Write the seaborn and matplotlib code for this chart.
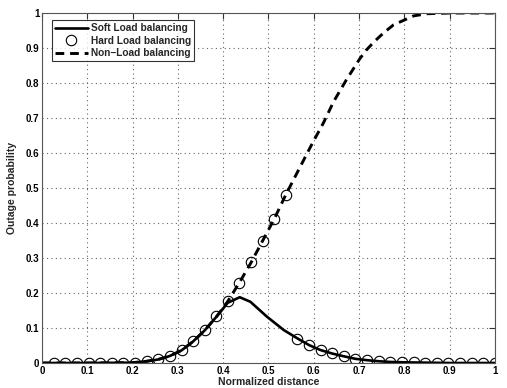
import matplotlib
matplotlib.use("Agg")
import matplotlib.pyplot as plt
import seaborn as sns
import pandas as pd

# soft load balancing curve
soft_x = [0.0, 0.1, 0.2, 0.231, 0.256, 0.282, 0.308, 0.333, 0.359, 0.385, 0.41,
          0.4365, 0.46, 0.497, 0.534, 0.567, 0.59, 0.615, 0.641, 0.667, 0.692,
          0.718, 0.744, 0.77, 0.8, 0.85, 0.9, 1.0]
soft_y = [0.0, 0.0, 0.001, 0.005, 0.01, 0.02, 0.036, 0.061, 0.093, 0.132, 0.172,
          0.188, 0.175, 0.132, 0.094, 0.068, 0.051, 0.037, 0.027, 0.019, 0.012,
          0.008, 0.005, 0.003, 0.002, 0.001, 0.0, 0.0]

# non-load balancing curve
nolb_x = [0.0, 0.1, 0.2, 0.231, 0.256, 0.282, 0.308, 0.333, 0.359, 0.385, 0.41,
          0.436, 0.462, 0.487, 0.513, 0.538, 0.573, 0.597, 0.621, 0.644, 0.672,
          0.701, 0.716, 0.735, 0.755, 0.776, 0.8, 0.821, 0.85, 0.9, 1.0]
nolb_y = [0.0, 0.0, 0.001, 0.005, 0.01, 0.02, 0.036, 0.061, 0.093, 0.132, 0.176,
          0.23, 0.288, 0.349, 0.412, 0.48, 0.568, 0.628, 0.685, 0.747, 0.809,
          0.868, 0.894, 0.92, 0.944, 0.966, 0.98, 0.992, 0.998, 1.0, 1.0]

# hard load balancing samples
hard_x = [0.026, 0.051, 0.077, 0.103, 0.128, 0.154, 0.179, 0.205, 0.231, 0.256,
          0.282, 0.308, 0.333, 0.359, 0.385, 0.41, 0.436, 0.462, 0.487, 0.513,
          0.538, 0.564, 0.59, 0.615, 0.641, 0.667, 0.692, 0.718, 0.744, 0.769,
          0.795, 0.821, 0.846, 0.872, 0.897, 0.923, 0.949, 0.974, 1.0]
hard_y = [0.0, 0.0, 0.0, 0.0, 0.0, 0.0, 0.0, 0.001, 0.006, 0.011,
          0.021, 0.037, 0.063, 0.094, 0.134, 0.178, 0.23, 0.288, 0.349, 0.412,
          0.48, 0.068, 0.051, 0.037, 0.028, 0.02, 0.012, 0.009, 0.006, 0.004,
          0.003, 0.002, 0.001, 0.0, 0.0, 0.0, 0.0, 0.0, 0.0]

sns.set_style("white")
plt.rcParams['font.family'] = ['Liberation Sans', 'DejaVu Sans']
plt.rcParams['font.weight'] = 'bold'

fig = plt.figure(figsize=(5.07, 3.88), dpi=100)
ax = fig.add_axes([0.083, 0.0644, 0.893, 0.902])

soft = pd.DataFrame({'x': soft_x, 'y': soft_y})
nolb = pd.DataFrame({'x': nolb_x, 'y': nolb_y})
hard = pd.DataFrame({'x': hard_x, 'y': hard_y})

sns.lineplot(data=soft, x='x', y='y', ax=ax, color='black', lw=1.9,
             sort=False, estimator=None, label='Soft Load balancing')
sns.lineplot(data=hard, x='x', y='y', ax=ax, color='black', linestyle='',
             marker='o', markersize=7.5, markerfacecolor='none',
             markeredgecolor='black', markeredgewidth=0.8,
             sort=False, estimator=None, label='Hard Load balancing')
sns.lineplot(data=nolb, x='x', y='y', ax=ax, color='black', lw=2.1,
             linestyle=(0, (3.0, 2.0)), sort=False, estimator=None,
             label='Non\u2212Load balancing')

ax.set_xlim(0, 1)
ax.set_ylim(0, 1)
ax.set_xticks([i / 10 for i in range(11)])
ax.set_yticks([i / 10 for i in range(11)])
ax.set_xticklabels(['0', '0.1', '0.2', '0.3', '0.4', '0.5', '0.6', '0.7', '0.8', '0.9', '1'])
ax.set_yticklabels(['0', '0.1', '0.2', '0.3', '0.4', '0.5', '0.6', '0.7', '0.8', '0.9', '1'])
ax.grid(True, linestyle=(0, (1, 3)), color='#666666', lw=0.8)
ax.tick_params(direction='in', length=4, width=0.8, top=True, right=True,
               labelsize=7, colors='#333333', labelcolor='black', pad=2)
for lab in ax.get_xticklabels() + ax.get_yticklabels():
    lab.set_fontweight('bold')
for s in ax.spines.values():
    s.set_color('#555555')
    s.set_linewidth(0.8)

ax.set_xlabel('Normalized distance', fontsize=7.5, fontweight='bold', labelpad=1)
ax.set_ylabel('Outage probability', fontsize=7.5, fontweight='bold', labelpad=6)

leg = ax.legend(loc='upper left', bbox_to_anchor=(0.022, 0.98), fontsize=7.3,
                frameon=True, fancybox=False, handlelength=3.2,
                borderpad=0.3, labelspacing=0.25, handletextpad=0.3,
                borderaxespad=0.0)
leg.get_frame().set_edgecolor('black')
leg.get_frame().set_linewidth(0.8)
for t in leg.get_texts():
    t.set_fontweight('bold')

fig.savefig('out.png', dpi=100)
